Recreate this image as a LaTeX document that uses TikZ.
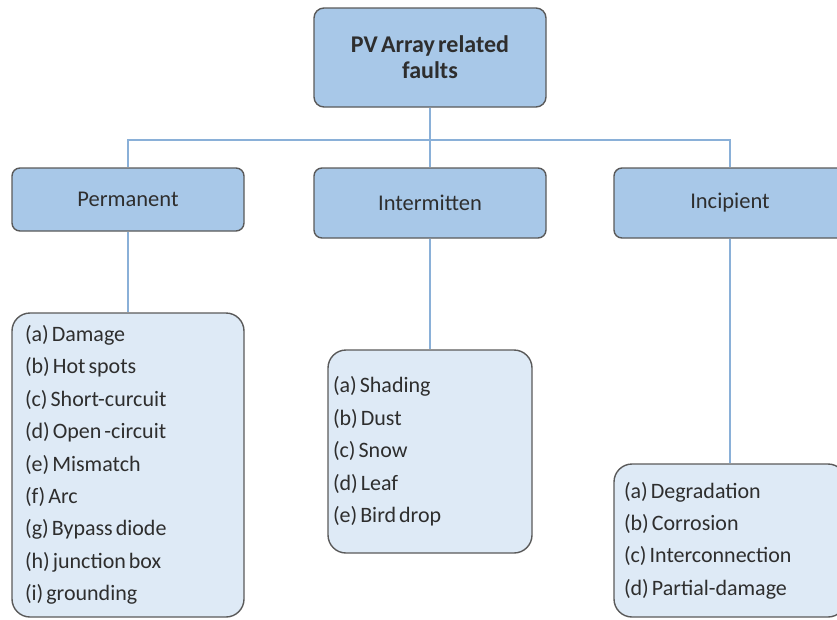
\documentclass[tikz,border=0pt]{standalone}
\usepackage{fontspec}
\setmainfont[WordSpace=0.6]{Carlito}
\definecolor{headblue}{HTML}{A8C8E8}
\definecolor{listblue}{HTML}{DEEAF6}
\definecolor{linkblue}{HTML}{8AB0D8}
\definecolor{edgegrey}{HTML}{5A5A5A}
\definecolor{textgrey}{HTML}{2E2E2E}
\begin{document}
\begin{tikzpicture}[x=1pt,y=-1pt,
  head/.style={fill=headblue,draw=edgegrey,line width=1.4pt,rounded corners=8pt,
    minimum width=232pt,text=textgrey,font=\fontsize{22.5}{26}\selectfont,align=center},
  items/.style={fill=listblue,draw=edgegrey,line width=1.4pt,rounded corners=18pt,
    text=textgrey,font=\fontsize{22}{32.4}\selectfont,align=flush left},
  link/.style={draw=linkblue,line width=1.6pt}]
\useasboundingbox (0,0) rectangle (837,619);
% top level
\node[head,minimum height=99pt,rounded corners=10pt,font=\bfseries\fontsize{24}{26}\selectfont] (root) at (430,57.5) {PV Array related\\faults};
\coordinate (bar) at (430,140);
% fault types
\node[head,minimum height=63pt] (perm) at (128,199.5) {Permanent};
\node[head,minimum height=70pt] (inter) at (430,203) {Intermitten};
\node[head,minimum height=70pt] (incip) at (730,203) {Incipient};
% lists
\node[items,minimum height=304pt,text width=206pt,inner xsep=13pt] (permlist) at (128,465) {(a) Damage\\(b) Hot spots\\(c) Short-curcuit\\(d) Open -circuit\\(e) Mismatch\\(f) Arc\\(g) Bypass diode\\(h) junction box\\(i) grounding};
\node[items,minimum height=203pt,text width=194pt,inner xsep=5pt] (interlist) at (430,451.5) {(a) Shading\\(b) Dust\\(c) Snow\\(d) Leaf\\(e) Bird drop};
\node[items,minimum height=153pt,text width=212pt,inner xsep=10pt] (inciplist) at (730,540.5) {(a) Degradation\\(b) Corrosion\\(c) Interconnection\\(d) Partial-damage};
% connectors
\path[link] (root) -- (bar);
\path[link] (bar) -| (perm);
\path[link] (bar) -- (inter);
\path[link] (bar) -| (incip);
\path[link] (perm) -- (permlist);
\path[link] (inter) -- (interlist);
\path[link] (incip) -- (inciplist);
\end{tikzpicture}
\end{document}
